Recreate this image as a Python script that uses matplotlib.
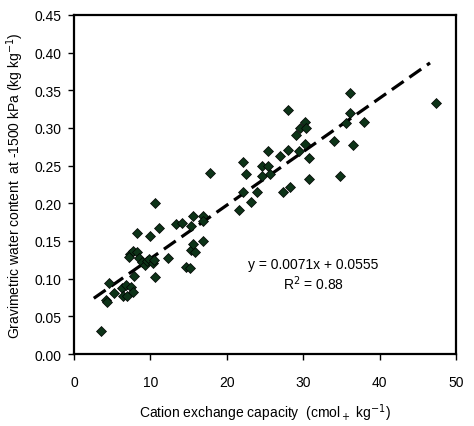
import numpy as np
import matplotlib
matplotlib.use("Agg")
import matplotlib.pyplot as plt

plt.rcParams["font.family"] = ["Liberation Sans", "DejaVu Sans"]

# CEC (cmol+ kg-1) vs water content at -1500 kPa (kg kg-1)
cec = [3.5, 4.2, 4.3, 4.6, 5.2, 6.3, 6.4, 6.8, 6.9, 7.5, 7.7, 7.9, 7.3, 7.2,
       7.7, 8.2, 8.2, 8.5, 8.9, 9.3, 9.6, 9.8, 10.3, 10.5, 9.9, 10.6, 10.6,
       11.1, 12.3, 13.4, 14.1, 14.7, 15.2, 15.3, 15.6, 15.3, 15.8, 15.6, 16.9,
       16.9, 16.9, 17.8, 21.6, 22.1, 23.2, 24.0, 22.1, 22.5, 24.6, 24.6, 25.4,
       25.7, 25.4, 27.0, 27.3, 28.0, 28.3, 28.0, 29.1, 29.5, 29.6, 30.2, 30.4,
       30.2, 30.8, 30.8, 34.0, 34.8, 35.6, 36.1, 36.1, 36.5, 38.0, 47.4]
water = [0.031, 0.072, 0.069, 0.094, 0.081, 0.087, 0.077, 0.092, 0.077, 0.089,
         0.082, 0.104, 0.133, 0.129, 0.137, 0.135, 0.161, 0.127, 0.122, 0.118,
         0.124, 0.126, 0.121, 0.125, 0.157, 0.200, 0.102, 0.167, 0.127, 0.173,
         0.174, 0.115, 0.114, 0.170, 0.183, 0.138, 0.135, 0.146, 0.183, 0.177,
         0.150, 0.240, 0.191, 0.215, 0.202, 0.215, 0.255, 0.239, 0.250, 0.236,
         0.250, 0.239, 0.269, 0.263, 0.215, 0.271, 0.222, 0.324, 0.291, 0.270,
         0.300, 0.308, 0.300, 0.279, 0.260, 0.232, 0.283, 0.236, 0.307, 0.346,
         0.320, 0.277, 0.308, 0.333]

slope = 0.0071
intercept = 0.0555
r2 = 0.88

fig = plt.figure(figsize=(4.74, 4.27), dpi=100)
ax = fig.add_axes([0.156, 0.1686, 0.806, 0.794])

ax.plot(cec, water, linestyle="none", marker="D", markersize=5,
        markerfacecolor="#0d3318", markeredgecolor="black", markeredgewidth=0.5,
        zorder=3)

# trend line over the data range (Excel style dashed)
xl = np.array([min(cec) - 0.9, max(cec) - 0.8])
ax.plot(xl, slope * xl + intercept, color="black", linewidth=2.3,
        dashes=(4.5, 2.2), zorder=2)

ax.set_xlim(0, 50)
ax.set_ylim(0, 0.45)
ax.set_xticks(np.arange(0, 51, 10))
ax.set_yticks(np.arange(0, 0.451, 0.05))
ax.set_yticklabels([f"{v:.2f}" for v in np.arange(0, 0.451, 0.05)])

for s in ax.spines.values():
    s.set_linewidth(1.6)
ax.tick_params(axis="both", direction="out", length=4, width=1, labelsize=10)
ax.tick_params(axis="x", pad=11)
ax.tick_params(axis="y", pad=5)

ax.text(31.3, 0.1195, f"y = {slope}x + {intercept}", ha="center", va="center",
        fontsize=10)
ax.text(31.3, 0.095, f"R$^2$ = {r2}", ha="center", va="center", fontsize=10)

ax.set_xlabel("Cation exchange capacity  (cmol$_+$ kg$^{-1}$)", fontsize=10,
              labelpad=9)
ax.set_ylabel("Gravimetric water content  at -1500 kPa (kg kg$^{-1}$)",
              fontsize=10, labelpad=6)

fig.savefig("out.png", dpi=100)
